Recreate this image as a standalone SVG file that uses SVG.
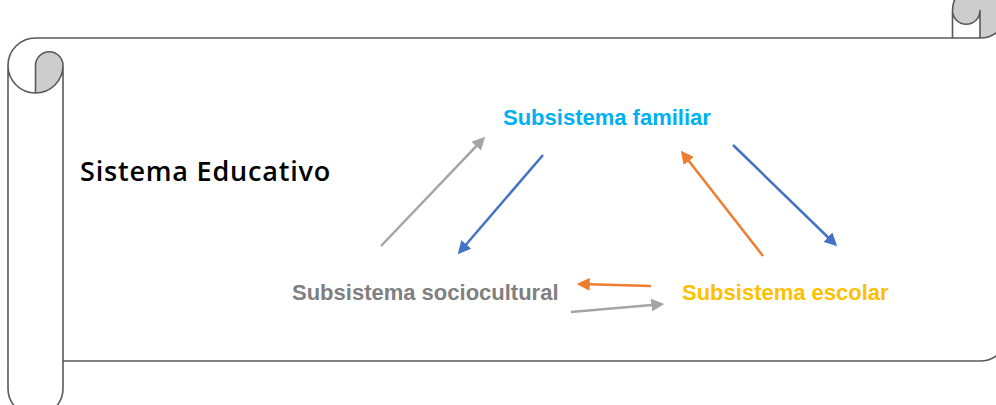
<svg xmlns="http://www.w3.org/2000/svg" width="996" height="405" viewBox="0 0 996 405">
  <style>
    .outline { fill: none; stroke: #595959; stroke-width: 1.6; stroke-linejoin: round; }
    .shade { fill: #cdcdcd; stroke: none; }
    .lbl { font-family: "Liberation Sans", Arial, sans-serif; font-weight: bold; font-size: 22px; }
    .title { font-family: "Open Sans", "Liberation Sans", Arial, sans-serif; font-weight: 600; font-size: 27px; letter-spacing: 0.8px; fill: #000000; }
    .arr { fill: none; stroke-width: 2.5; }
  </style>
  <defs>
    <marker id="hGray" viewBox="0 0 10 10" refX="7" refY="5" markerWidth="13" markerHeight="13" markerUnits="userSpaceOnUse" orient="auto">
      <path d="M0,0 L10,5 L0,10 Z" fill="#a5a5a5"/>
    </marker>
    <marker id="hBlue" viewBox="0 0 10 10" refX="7" refY="5" markerWidth="13" markerHeight="13" markerUnits="userSpaceOnUse" orient="auto">
      <path d="M0,0 L10,5 L0,10 Z" fill="#4472c4"/>
    </marker>
    <marker id="hOrange" viewBox="0 0 10 10" refX="7" refY="5" markerWidth="13" markerHeight="13" markerUnits="userSpaceOnUse" orient="auto">
      <path d="M0,0 L10,5 L0,10 Z" fill="#ed7d31"/>
    </marker>
  </defs>
  <rect x="0" y="0" width="996" height="405" fill="#ffffff"/>

  <g id="scroll">
    <path fill="#ffffff" d="M1007.5,10.5 A27.5,27.5 0 0 1 980,38 L980,10.5 A13.75,13.75 0 0 1 952.5,10.5 L952.5,38 L35.5,38 A27.5,27.5 0 0 0 8,65.5 L8,388.5 A27.5,27.5 0 0 0 63,388.5 L63,361 L980,361 A27.5,27.5 0 0 0 1007.5,333.5 Z"/>
    <path class="shade" d="M35.5,93 A27.5,27.5 0 0 0 63,65.5 A13.75,13.75 0 0 0 35.5,65.5 Z"/>
    <path class="shade" d="M980,38 A27.5,27.5 0 1 0 952.5,10.5 A13.75,13.75 0 0 0 980,10.5 Z"/>
    <path class="outline" d="M8,65.5 A27.5,27.5 0 0 1 35.5,38 L952.5,38 L952.5,10.5 A27.5,27.5 0 0 1 1007.5,10.5 L1007.5,333.5 A27.5,27.5 0 0 1 980,361 L63,361 L63,388.5 A27.5,27.5 0 0 1 8,388.5 Z M952.5,38 L980,38 A27.5,27.5 0 0 0 1007.5,10.5 M980,38 L980,10.5 A13.75,13.75 0 0 1 952.5,10.5 M35.5,93 L35.5,65.5 A13.75,13.75 0 0 1 63,65.5 A27.5,27.5 0 0 1 8,65.5 M63,65.5 L63,361"/>
  </g>

  <g id="title">
    <text class="title" x="80" y="181">Sistema Educativo</text>
  </g>
  <g id="familiar">
    <text class="lbl" x="503" y="125" fill="#00b0f0">Subsistema familiar</text>
  </g>
  <g id="sociocultural">
    <text class="lbl" x="292" y="300" fill="#7f7f7f">Subsistema sociocultural</text>
  </g>
  <g id="escolar">
    <text class="lbl" x="682" y="300" fill="#ffc000">Subsistema escolar</text>
  </g>

  <g id="connectors">
    <line class="arr" x1="381" y1="246" x2="482.5" y2="139.6" stroke="#a5a5a5" marker-end="url(#hGray)"/>
    <line class="arr" x1="543" y1="155" x2="460.3" y2="251.3" stroke="#4472c4" marker-end="url(#hBlue)"/>
    <line class="arr" x1="763" y1="256" x2="683.2" y2="153.8" stroke="#ed7d31" marker-end="url(#hOrange)"/>
    <line class="arr" x1="733" y1="145" x2="834.4" y2="243.5" stroke="#4472c4" marker-end="url(#hBlue)"/>
    <line class="arr" x1="651" y1="286" x2="580.6" y2="284.1" stroke="#ed7d31" marker-end="url(#hOrange)"/>
    <line class="arr" x1="571" y1="312" x2="660.4" y2="304.3" stroke="#a5a5a5" marker-end="url(#hGray)"/>
  </g>
</svg>
